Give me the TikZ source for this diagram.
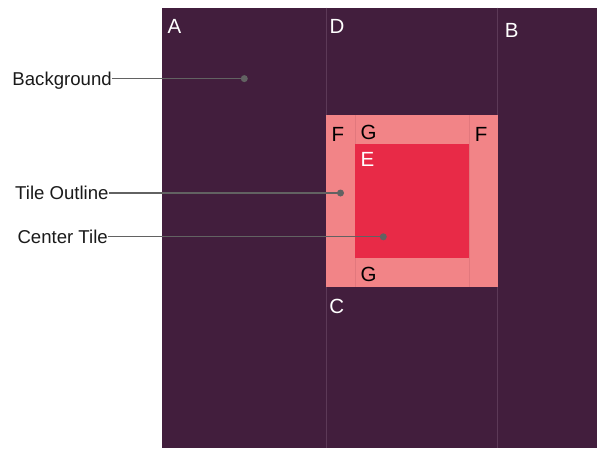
\documentclass[tikz,border=0pt]{standalone}
\usepackage{fontspec}
\setmainfont{Liberation Sans}
\definecolor{bgpurple}{HTML}{421E3D}
\definecolor{divline}{HTML}{5C3957}
\definecolor{tilepink}{HTML}{F28487}
\definecolor{pinkline}{HTML}{E2787D}
\definecolor{tilered}{HTML}{E82A47}
\definecolor{callgrey}{HTML}{626262}
\definecolor{labelink}{HTML}{1A1A1A}
\tikzset{
  callout/.style={inner sep=0pt, anchor=west, text=labelink, font=\fontsize{18.6}{18.6}\selectfont, text height=13.3pt, text depth=0pt},
  letterw/.style={inner sep=0pt, text=white, font=\fontsize{20.5}{20.5}\selectfont, text height=14.7pt, text depth=0pt},
  letterb/.style={letterw, text=black},
  calldot/.style={circle, fill=callgrey, inner sep=0pt, minimum size=7pt},
  callline/.style={draw=callgrey, line width=1.1pt},
}
\begin{document}
\begin{tikzpicture}[x=1pt,y=-1pt]
\fill[white] (0,0) rectangle (597,448);
\useasboundingbox (0,0) rectangle (597,448);
% background panel
\fill[bgpurple] (162.3,7.5) rectangle (597,448);
\draw[divline, line width=0.9pt] (326,7.5) -- (326,448);
\draw[divline, line width=0.9pt] (497.7,7.5) -- (497.7,448);
% tile outline
\fill[tilepink] (326,115) rectangle (497.7,286.5);
\draw[pinkline, line width=0.7pt] (355,115) -- (355,286.5);
\draw[pinkline, line width=0.7pt] (469,115) -- (469,286.5);
% center tile
\fill[tilered] (355,143.5) rectangle (469,257.8);
% letters
\node[letterw] (A) at (174.5,26) {A};
\node[letterw] (D) at (337,26) {D};
\node[letterw] (B) at (511.7,30.2) {B};
\node[letterb] (F1) at (338,134.2) {F};
\node[letterb] (G1) at (368.7,132.2) {G};
\node[letterb] (F2) at (481.2,134.2) {F};
\node[letterw] (E) at (367.5,159.2) {E};
\node[letterb] (G2) at (368.7,274.2) {G};
\node[letterw] (C) at (336.7,305.7) {C};
% callouts
\node[callout] (lbg) at (12.3,78.4) {Background};
\node[callout] (lto) at (15,192.4) {Tile Outline};
\node[callout] (lct) at (17.3,236.6) {Center Tile};
\node[calldot] (dbg) at (244.3,78.6) {};
\node[calldot] (dto) at (340.5,193) {};
\node[calldot] (dct) at (383.3,236.8) {};
\draw[callline] (lbg.east |- dbg) -- (dbg.center);
\draw[callline] (lto.east |- dto) -- (dto.center);
\draw[callline] (lct.east |- dct) -- (dct.center);
\end{tikzpicture}
\end{document}
